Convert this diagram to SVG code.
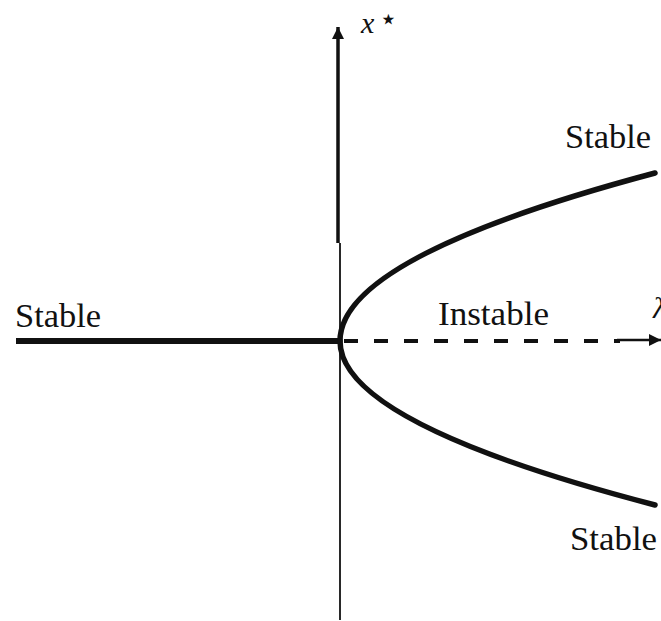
<svg xmlns="http://www.w3.org/2000/svg" width="661" height="621" viewBox="0 0 661 621">
<style>
.lbl{font-family:"Liberation Serif","Times New Roman",serif;font-size:33px;fill:#111}
.math{font-family:"Liberation Serif","Times New Roman",serif;font-style:italic;fill:#111}
.ax{stroke:#111;fill:none}
.branch{stroke:#111;fill:none;stroke-width:5.5;stroke-linecap:round}
</style>
<defs>
<marker id="ah" markerWidth="12" markerHeight="12" viewBox="0 0 12 12" refX="12" refY="6" orient="auto" markerUnits="userSpaceOnUse">
<path d="M0,0 L12,6 L0,12 Z" fill="#111"/>
</marker>
</defs>
<rect width="661" height="621" fill="#fff"/>
<g id="connectors">
<line class="ax" x1="340" y1="620" x2="340" y2="243" stroke-width="1.8"/>
<line class="ax" x1="338" y1="243" x2="338" y2="27" stroke-width="3.5" marker-end="url(#ah)"/>
<line class="ax" x1="344" y1="341" x2="620" y2="341" stroke-width="4" stroke-dasharray="14 16"/>
<line class="ax" x1="617" y1="340" x2="661" y2="340" stroke-width="2.5" marker-end="url(#ah)"/>
</g>
<g id="stable-left">
<line x1="16" y1="341" x2="340" y2="341" stroke="#111" stroke-width="6"/>
<text class="lbl" x="15" y="327" textLength="86" lengthAdjust="spacingAndGlyphs">Stable</text>
</g>
<g id="stable-upper">
<path class="branch" d="M340,341 Q340,257 655,173"/>
<text class="lbl" x="565" y="148" textLength="86" lengthAdjust="spacingAndGlyphs">Stable</text>
</g>
<g id="stable-lower">
<path class="branch" d="M340,341 Q340,423 655,505"/>
<text class="lbl" x="570" y="550" textLength="87" lengthAdjust="spacingAndGlyphs">Stable</text>
</g>
<g id="instable">
<text class="lbl" x="438" y="325" textLength="111" lengthAdjust="spacingAndGlyphs">Instable</text>
</g>
<g id="axis-labels">
<text class="math" x="361" y="33" font-size="30">x</text>
<text x="379" y="29" font-size="30" font-family="DejaVu Sans, sans-serif" fill="#111">⋆</text>
<text class="math" x="653" y="318" font-size="30">λ</text>
</g>
</svg>
